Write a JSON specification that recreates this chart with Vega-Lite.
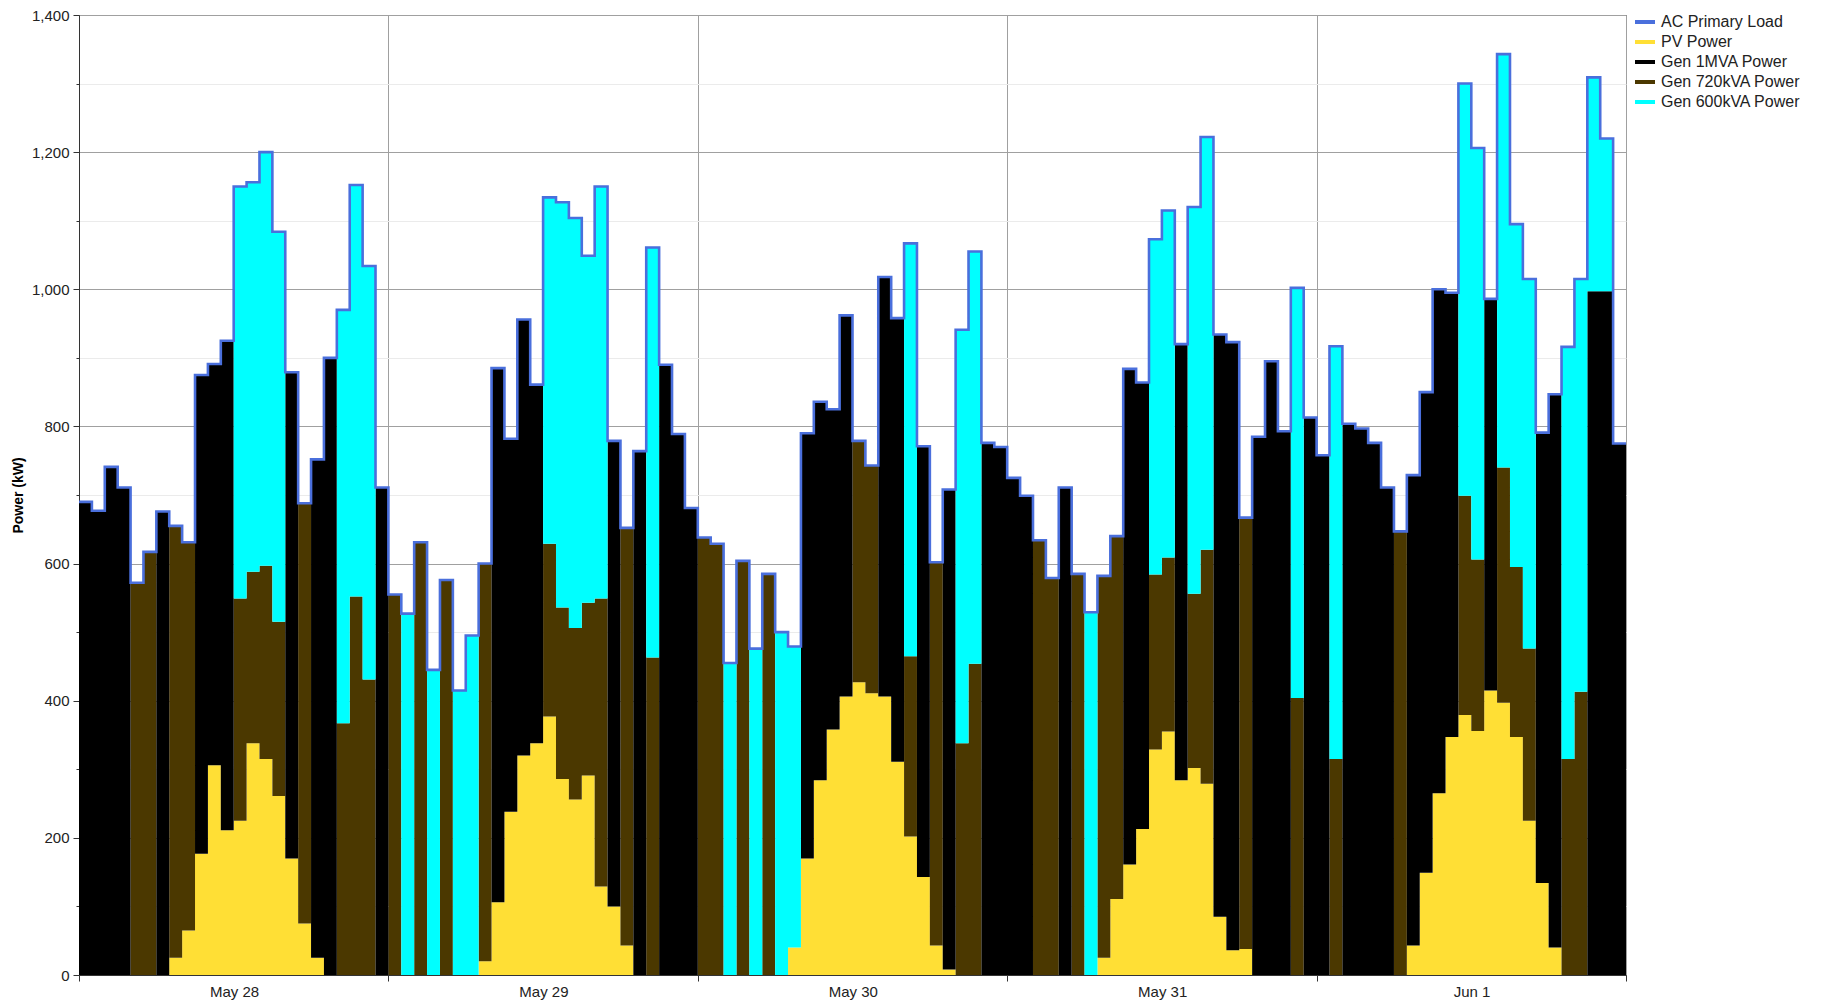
{
 "$schema": "https://vega.github.io/schema/vega-lite/v6.json",
 "width": 1547, "height": 960,
 "autosize": {"type": "none"},
 "padding": {"left": 79, "top": 15, "right": 198, "bottom": 25},
 "background": "white",
 "config": {"view": {"stroke": "#3a3a3a", "strokeWidth": 1}, "font": "Liberation Sans"},
 "datasets": {
  "series": [
   {"key": "load", "name": "AC Primary Load", "rank": 0},
   {"key": "pv", "name": "PV Power", "rank": 1},
   {"key": "g720", "name": "Gen 720kVA Power", "rank": 2},
   {"key": "g1", "name": "Gen 1MVA Power", "rank": 3},
   {"key": "g600", "name": "Gen 600kVA Power", "rank": 4}
  ],
  "hourly": [
   {"h":0,"load":690,"pv":0,"g720":0,"g1":690,"g600":0},
   {"h":1,"load":677,"pv":0,"g720":0,"g1":677,"g600":0},
   {"h":2,"load":741,"pv":0,"g720":0,"g1":741,"g600":0},
   {"h":3,"load":711,"pv":0,"g720":0,"g1":711,"g600":0},
   {"h":4,"load":572,"pv":0,"g720":572,"g1":0,"g600":0},
   {"h":5,"load":617,"pv":0,"g720":617,"g1":0,"g600":0},
   {"h":6,"load":676,"pv":0,"g720":0,"g1":676,"g600":0},
   {"h":7,"load":655,"pv":25,"g720":630,"g1":0,"g600":0},
   {"h":8,"load":631,"pv":65,"g720":566,"g1":0,"g600":0},
   {"h":9,"load":875,"pv":177,"g720":0,"g1":698,"g600":0},
   {"h":10,"load":891,"pv":306,"g720":0,"g1":585,"g600":0},
   {"h":11,"load":925,"pv":211,"g720":0,"g1":714,"g600":0},
   {"h":12,"load":1150,"pv":225,"g720":324,"g1":0,"g600":601},
   {"h":13,"load":1156,"pv":338,"g720":250,"g1":0,"g600":568},
   {"h":14,"load":1200,"pv":315,"g720":282,"g1":0,"g600":603},
   {"h":15,"load":1084,"pv":261,"g720":254,"g1":0,"g600":569},
   {"h":16,"load":879,"pv":170,"g720":0,"g1":709,"g600":0},
   {"h":17,"load":688,"pv":75,"g720":613,"g1":0,"g600":0},
   {"h":18,"load":752,"pv":25,"g720":0,"g1":727,"g600":0},
   {"h":19,"load":900,"pv":0,"g720":0,"g1":900,"g600":0},
   {"h":20,"load":970,"pv":0,"g720":367,"g1":0,"g600":603},
   {"h":21,"load":1152,"pv":0,"g720":552,"g1":0,"g600":600},
   {"h":22,"load":1034,"pv":0,"g720":431,"g1":0,"g600":603},
   {"h":23,"load":711,"pv":0,"g720":0,"g1":711,"g600":0},
   {"h":24,"load":555,"pv":0,"g720":555,"g1":0,"g600":0},
   {"h":25,"load":527,"pv":0,"g720":0,"g1":0,"g600":527},
   {"h":26,"load":631,"pv":0,"g720":631,"g1":0,"g600":0},
   {"h":27,"load":445,"pv":0,"g720":0,"g1":0,"g600":445},
   {"h":28,"load":576,"pv":0,"g720":576,"g1":0,"g600":0},
   {"h":29,"load":415,"pv":0,"g720":0,"g1":0,"g600":415},
   {"h":30,"load":495,"pv":0,"g720":0,"g1":0,"g600":495},
   {"h":31,"load":600,"pv":20,"g720":580,"g1":0,"g600":0},
   {"h":32,"load":885,"pv":106,"g720":0,"g1":779,"g600":0},
   {"h":33,"load":782,"pv":238,"g720":0,"g1":544,"g600":0},
   {"h":34,"load":956,"pv":320,"g720":0,"g1":636,"g600":0},
   {"h":35,"load":861,"pv":338,"g720":0,"g1":523,"g600":0},
   {"h":36,"load":1134,"pv":377,"g720":252,"g1":0,"g600":505},
   {"h":37,"load":1127,"pv":286,"g720":250,"g1":0,"g600":591},
   {"h":38,"load":1104,"pv":256,"g720":250,"g1":0,"g600":598},
   {"h":39,"load":1049,"pv":291,"g720":252,"g1":0,"g600":506},
   {"h":40,"load":1150,"pv":129,"g720":420,"g1":0,"g600":601},
   {"h":41,"load":779,"pv":100,"g720":0,"g1":679,"g600":0},
   {"h":42,"load":652,"pv":43,"g720":609,"g1":0,"g600":0},
   {"h":43,"load":764,"pv":0,"g720":0,"g1":764,"g600":0},
   {"h":44,"load":1061,"pv":0,"g720":463,"g1":0,"g600":598},
   {"h":45,"load":890,"pv":0,"g720":0,"g1":890,"g600":0},
   {"h":46,"load":789,"pv":0,"g720":0,"g1":789,"g600":0},
   {"h":47,"load":681,"pv":0,"g720":0,"g1":681,"g600":0},
   {"h":48,"load":638,"pv":0,"g720":638,"g1":0,"g600":0},
   {"h":49,"load":629,"pv":0,"g720":629,"g1":0,"g600":0},
   {"h":50,"load":455,"pv":0,"g720":0,"g1":0,"g600":455},
   {"h":51,"load":604,"pv":0,"g720":604,"g1":0,"g600":0},
   {"h":52,"load":476,"pv":0,"g720":0,"g1":0,"g600":476},
   {"h":53,"load":585,"pv":0,"g720":585,"g1":0,"g600":0},
   {"h":54,"load":500,"pv":0,"g720":0,"g1":0,"g600":500},
   {"h":55,"load":479,"pv":40,"g720":0,"g1":0,"g600":439},
   {"h":56,"load":790,"pv":170,"g720":0,"g1":620,"g600":0},
   {"h":57,"load":836,"pv":284,"g720":0,"g1":552,"g600":0},
   {"h":58,"load":825,"pv":358,"g720":0,"g1":467,"g600":0},
   {"h":59,"load":962,"pv":406,"g720":0,"g1":556,"g600":0},
   {"h":60,"load":779,"pv":427,"g720":352,"g1":0,"g600":0},
   {"h":61,"load":743,"pv":411,"g720":332,"g1":0,"g600":0},
   {"h":62,"load":1018,"pv":406,"g720":0,"g1":612,"g600":0},
   {"h":63,"load":958,"pv":311,"g720":0,"g1":647,"g600":0},
   {"h":64,"load":1067,"pv":202,"g720":263,"g1":0,"g600":602},
   {"h":65,"load":771,"pv":143,"g720":0,"g1":628,"g600":0},
   {"h":66,"load":602,"pv":43,"g720":559,"g1":0,"g600":0},
   {"h":67,"load":708,"pv":8,"g720":0,"g1":700,"g600":0},
   {"h":68,"load":941,"pv":0,"g720":338,"g1":0,"g600":603},
   {"h":69,"load":1055,"pv":0,"g720":454,"g1":0,"g600":601},
   {"h":70,"load":776,"pv":0,"g720":0,"g1":776,"g600":0},
   {"h":71,"load":770,"pv":0,"g720":0,"g1":770,"g600":0},
   {"h":72,"load":725,"pv":0,"g720":0,"g1":725,"g600":0},
   {"h":73,"load":699,"pv":0,"g720":0,"g1":699,"g600":0},
   {"h":74,"load":634,"pv":0,"g720":634,"g1":0,"g600":0},
   {"h":75,"load":579,"pv":0,"g720":579,"g1":0,"g600":0},
   {"h":76,"load":711,"pv":0,"g720":0,"g1":711,"g600":0},
   {"h":77,"load":585,"pv":0,"g720":585,"g1":0,"g600":0},
   {"h":78,"load":529,"pv":0,"g720":0,"g1":0,"g600":529},
   {"h":79,"load":582,"pv":25,"g720":557,"g1":0,"g600":0},
   {"h":80,"load":640,"pv":111,"g720":529,"g1":0,"g600":0},
   {"h":81,"load":884,"pv":161,"g720":0,"g1":723,"g600":0},
   {"h":82,"load":864,"pv":213,"g720":0,"g1":651,"g600":0},
   {"h":83,"load":1073,"pv":329,"g720":255,"g1":0,"g600":489},
   {"h":84,"load":1115,"pv":355,"g720":254,"g1":0,"g600":506},
   {"h":85,"load":920,"pv":284,"g720":0,"g1":636,"g600":0},
   {"h":86,"load":1120,"pv":302,"g720":254,"g1":0,"g600":564},
   {"h":87,"load":1222,"pv":279,"g720":341,"g1":0,"g600":602},
   {"h":88,"load":934,"pv":85,"g720":0,"g1":849,"g600":0},
   {"h":89,"load":923,"pv":36,"g720":0,"g1":887,"g600":0},
   {"h":90,"load":667,"pv":38,"g720":629,"g1":0,"g600":0},
   {"h":91,"load":785,"pv":0,"g720":0,"g1":785,"g600":0},
   {"h":92,"load":895,"pv":0,"g720":0,"g1":895,"g600":0},
   {"h":93,"load":793,"pv":0,"g720":0,"g1":793,"g600":0},
   {"h":94,"load":1002,"pv":0,"g720":404,"g1":0,"g600":598},
   {"h":95,"load":813,"pv":0,"g720":0,"g1":813,"g600":0},
   {"h":96,"load":758,"pv":0,"g720":0,"g1":758,"g600":0},
   {"h":97,"load":917,"pv":0,"g720":315,"g1":0,"g600":602},
   {"h":98,"load":804,"pv":0,"g720":0,"g1":804,"g600":0},
   {"h":99,"load":797,"pv":0,"g720":0,"g1":797,"g600":0},
   {"h":100,"load":776,"pv":0,"g720":0,"g1":776,"g600":0},
   {"h":101,"load":711,"pv":0,"g720":0,"g1":711,"g600":0},
   {"h":102,"load":647,"pv":0,"g720":647,"g1":0,"g600":0},
   {"h":103,"load":729,"pv":43,"g720":0,"g1":686,"g600":0},
   {"h":104,"load":850,"pv":149,"g720":0,"g1":701,"g600":0},
   {"h":105,"load":1000,"pv":265,"g720":0,"g1":735,"g600":0},
   {"h":106,"load":995,"pv":347,"g720":0,"g1":648,"g600":0},
   {"h":107,"load":1300,"pv":379,"g720":320,"g1":0,"g600":601},
   {"h":108,"load":1206,"pv":356,"g720":250,"g1":0,"g600":600},
   {"h":109,"load":986,"pv":415,"g720":0,"g1":571,"g600":0},
   {"h":110,"load":1343,"pv":397,"g720":343,"g1":0,"g600":603},
   {"h":111,"load":1095,"pv":347,"g720":248,"g1":0,"g600":500},
   {"h":112,"load":1015,"pv":225,"g720":251,"g1":0,"g600":539},
   {"h":113,"load":791,"pv":134,"g720":0,"g1":657,"g600":0},
   {"h":114,"load":847,"pv":40,"g720":0,"g1":807,"g600":0},
   {"h":115,"load":916,"pv":0,"g720":315,"g1":0,"g600":601},
   {"h":116,"load":1015,"pv":0,"g720":413,"g1":0,"g600":602},
   {"h":117,"load":1309,"pv":0,"g720":0,"g1":997,"g600":312},
   {"h":118,"load":1220,"pv":0,"g720":0,"g1":997,"g600":223},
   {"h":119,"load":775,"pv":0,"g720":0,"g1":775,"g600":0},
   {"h":120,"load":775,"pv":0,"g720":0,"g1":775,"g600":0}
  ]
 },
 "data": {"name": "hourly"},
 "transform": [
  {"fold": ["load", "pv", "g720", "g1", "g600"], "as": ["key", "kw"]},
  {"lookup": "key", "from": {"data": {"name": "series"}, "key": "key", "fields": ["name", "rank"]}}
 ],
 "encoding": {
  "x": {"field": "h", "type": "quantitative",
   "scale": {"domain": [0, 120], "nice": false, "zero": false},
   "axis": {"values": [0, 24, 48, 72, 96, 120], "title": null, "grid": true, "gridColor": "#a0a0a0", "gridWidth": 1,
    "labelExpr": "['May 28','May 29','May 30','May 31','Jun 1',''][round(datum.value/24)]",
    "labelOffset": 155, "labelFlush": false, "labelOverlap": false, "labelBound": false,
    "tickSize": 6, "tickColor": "#333", "domainColor": "#333", "labelFontSize": 15, "labelColor": "#222", "labelPadding": 3}
  },
  "color": {"field": "name", "type": "nominal",
   "scale": {"domain": ["AC Primary Load", "PV Power", "Gen 1MVA Power", "Gen 720kVA Power", "Gen 600kVA Power"],
    "range": ["#4A6FDC", "#FFDF35", "#000000", "#4B3800", "#00FFFF"]},
   "legend": {"title": null, "orient": "none", "legendX": 1554, "legendY": -5, "padding": 0,
    "symbolType": "stroke", "symbolSize": 400, "symbolStrokeWidth": 4, "labelFontSize": 16, "labelColor": "#222",
    "rowPadding": 0, "labelOffset": 4,
    "encode": {"symbols": {"update": {"stroke": {"scale": "color", "field": "value"}, "strokeWidth": {"value": 4}}}}}
  }
 },
 "layer": [
  {
   "transform": [{"filter": "datum.key != 'load'"}],
   "mark": {"type": "area", "interpolate": "step-after"},
   "encoding": {
    "y": {"field": "kw", "type": "quantitative", "stack": "zero",
     "scale": {"domain": [0, 1400], "nice": false},
     "axis": {"title": "Power (kW)", "titleFontSize": 14, "titleFontWeight": "bold", "titleColor": "#000", "titlePadding": 6,
      "values": [0,100,200,300,400,500,600,700,800,900,1000,1100,1200,1300,1400],
      "labelExpr": "datum.value % 200 === 0 ? format(datum.value, ',') : ''",
      "grid": true,
      "gridColor": {"condition": {"test": "datum.value % 200 === 0", "value": "#a0a0a0"}, "value": "#ebebeb"},
      "tickSize": {"condition": {"test": "datum.value % 200 === 0", "value": 6}, "value": 3},
      "tickColor": "#333", "domainColor": "#333", "labelFontSize": 15, "labelColor": "#222", "labelPadding": 4}
    },
    "order": {"field": "rank", "type": "quantitative"}
   }
  },
  {
   "transform": [{"filter": "datum.key == 'load'"}],
   "mark": {"type": "line", "interpolate": "step-after", "strokeWidth": 2.6},
   "encoding": {
    "y": {"field": "kw", "type": "quantitative", "stack": null,
     "scale": {"domain": [0, 1400], "nice": false},
     "axis": {"title": "Power (kW)", "titleFontSize": 14, "titleFontWeight": "bold", "titleColor": "#000", "titlePadding": 6,
      "values": [0,100,200,300,400,500,600,700,800,900,1000,1100,1200,1300,1400],
      "labelExpr": "datum.value % 200 === 0 ? format(datum.value, ',') : ''",
      "grid": true,
      "gridColor": {"condition": {"test": "datum.value % 200 === 0", "value": "#a0a0a0"}, "value": "#ebebeb"},
      "tickSize": {"condition": {"test": "datum.value % 200 === 0", "value": 6}, "value": 3},
      "tickColor": "#333", "domainColor": "#333", "labelFontSize": 15, "labelColor": "#222", "labelPadding": 4}
    }
   }
  }
 ]
}
